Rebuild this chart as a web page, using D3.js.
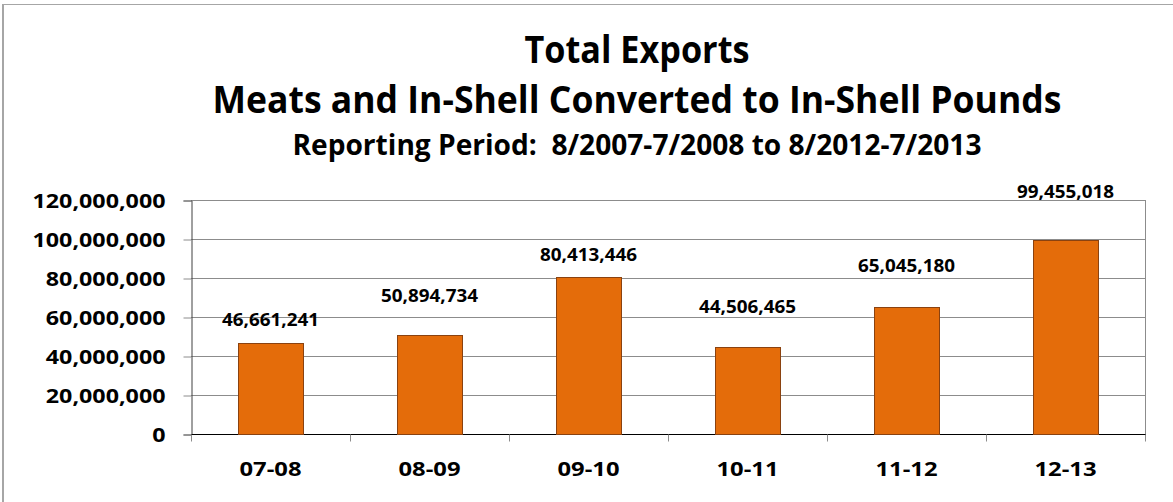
<!DOCTYPE html>
<html><head><meta charset="utf-8">
<script src="https://cdn.jsdelivr.net/npm/d3@7"></script>
<style>html,body{margin:0;padding:0;background:#fff;}svg{display:block;font-family:"Open Sans",Lato,sans-serif;font-weight:700;}</style>
</head><body>
<svg id="chart" width="1173" height="502"></svg>
<script>
// ---- data ----
const categories = ["07-08","08-09","09-10","10-11","11-12","12-13"];
const exportsLbs = [46661241, 50894734, 80413446, 44506465, 65045180, 99455018];
const yTicks = [0, 20000000, 40000000, 60000000, 80000000, 100000000, 120000000];
const titleLines = ["Total Exports", "Meats and In-Shell Converted to In-Shell Pounds", "Reporting Period:  8/2007-7/2008 to 8/2012-7/2013"];
// ---- layout (not data) ----
const labelGap = [17, 33, 16, 34, 35, 42];

const svg = d3.select("#chart");
const W = 1173, H = 502;
const plot = {left: 191, right: 1145, top: 200, bottom: 434};
const FONT = "Open Sans";

svg.append("rect").attr("width", W).attr("height", H).attr("fill", "#fff");
// outer frame (top & left visible)
svg.append("line").attr("x1", 2).attr("x2", W).attr("y1", 4.5).attr("y2", 4.5).attr("stroke", "#a6a6a6").attr("stroke-width", 1);
svg.append("line").attr("x1", 3).attr("x2", 3).attr("y1", 4).attr("y2", H).attr("stroke", "#a6a6a6").attr("stroke-width", 2);

const x = d3.scaleBand().domain(categories).range([plot.left, plot.right]).paddingInner(0.59).paddingOuter(0.295);
const y = d3.scaleLinear().domain([0, 120000000]).range([plot.bottom, plot.top]);
const fmt = d3.format(",");

function scaleText(sel, factor) {
  sel.each(function(){
    const w = this.getComputedTextLength();
    this.setAttribute("textLength", (w * factor).toFixed(2));
    this.setAttribute("lengthAdjust", "spacingAndGlyphs");
  });
}
function groupFactor(sel, sample, target) {
  let f = 1;
  sel.each(function(){ if (this.textContent === sample) f = target / this.getComputedTextLength(); });
  return f;
}

// gridlines
svg.append("g").selectAll("line").data(yTicks.filter(d => d > 0)).join("line")
  .attr("x1", plot.left).attr("x2", plot.right)
  .attr("y1", d => Math.round(y(d)) + 0.5).attr("y2", d => Math.round(y(d)) + 0.5)
  .attr("stroke", "#8c8c8c").attr("stroke-width", 1);
// right border of plot
svg.append("line").attr("x1", plot.right + 0.5).attr("x2", plot.right + 0.5)
  .attr("y1", plot.top).attr("y2", plot.bottom).attr("stroke", "#8c8c8c");

// y axis
const yAxis = svg.append("g").attr("transform", `translate(${plot.left + 0.5},0.5)`)
  .call(d3.axisLeft(y).tickValues(yTicks).tickFormat(fmt).tickSize(8).tickPadding(18));
yAxis.select(".domain").attr("stroke", "#404040");
yAxis.selectAll(".tick line").attr("stroke", "#8c8c8c");
const yText = yAxis.selectAll(".tick text").attr("font-size", 19.5).attr("font-weight", 700)
  .attr("font-family", FONT).attr("fill", "#000").attr("dy", "0.36em");

// x axis with ticks at category boundaries
const xAxisG = svg.append("g").attr("transform", `translate(0,${plot.bottom + 0.5})`);
xAxisG.append("line").attr("x1", plot.left).attr("x2", plot.right + 1).attr("stroke", "#000").attr("stroke-width", 1.2);
xAxisG.selectAll("line.tk").data(d3.range(categories.length + 1)).join("line").attr("class", "tk")
  .attr("x1", i => Math.round(plot.left + i * x.step()) + 0.5).attr("x2", i => Math.round(plot.left + i * x.step()) + 0.5)
  .attr("y1", 0).attr("y2", 7).attr("stroke", "#8c8c8c");
const xText = svg.append("g").selectAll("text").data(categories).join("text")
  .attr("x", d => x(d) + x.bandwidth() / 2).attr("y", 476)
  .attr("text-anchor", "middle").attr("font-size", 19.5).attr("fill", "#000").text(d => d);

// bars
svg.append("g").selectAll("rect").data(exportsLbs).join("rect")
  .attr("x", (d, i) => Math.round(x(categories[i])) + 0.5)
  .attr("width", Math.round(x.bandwidth()))
  .attr("y", d => Math.round(y(d)) + 0.5)
  .attr("height", d => Math.round(y(0)) - Math.round(y(d)))
  .attr("fill", "#e46c0a").attr("stroke", "#8a4210").attr("stroke-width", 1);

// value labels
const vText = svg.append("g").selectAll("text").data(exportsLbs).join("text")
  .attr("x", (d, i) => x(categories[i]) + x.bandwidth() / 2)
  .attr("y", (d, i) => y(d) - labelGap[i])
  .attr("text-anchor", "middle").attr("font-size", 17).attr("fill", "#000")
  .text(d => fmt(d));

// titles
const titleX = 637;
const titleY = [63, 113, 155];
const titleSize = [37.5, 37.5, 28];
const titleW = [225, 849, 689];
titleLines.forEach((t, i) => {
  svg.append("text").attr("x", titleX).attr("y", titleY[i]).attr("text-anchor", "middle")
    .attr("font-size", titleSize[i]).attr("fill", "#000")
    .style("white-space", "pre").text(t)
    .attr("textLength", titleW[i]).attr("lengthAdjust", "spacingAndGlyphs");
});

scaleText(yText, groupFactor(yText, "120,000,000", 133));
scaleText(xText, groupFactor(xText, "07-08", 62));
scaleText(vText, groupFactor(vText, "46,661,241", 97));
</script>
</body></html>
